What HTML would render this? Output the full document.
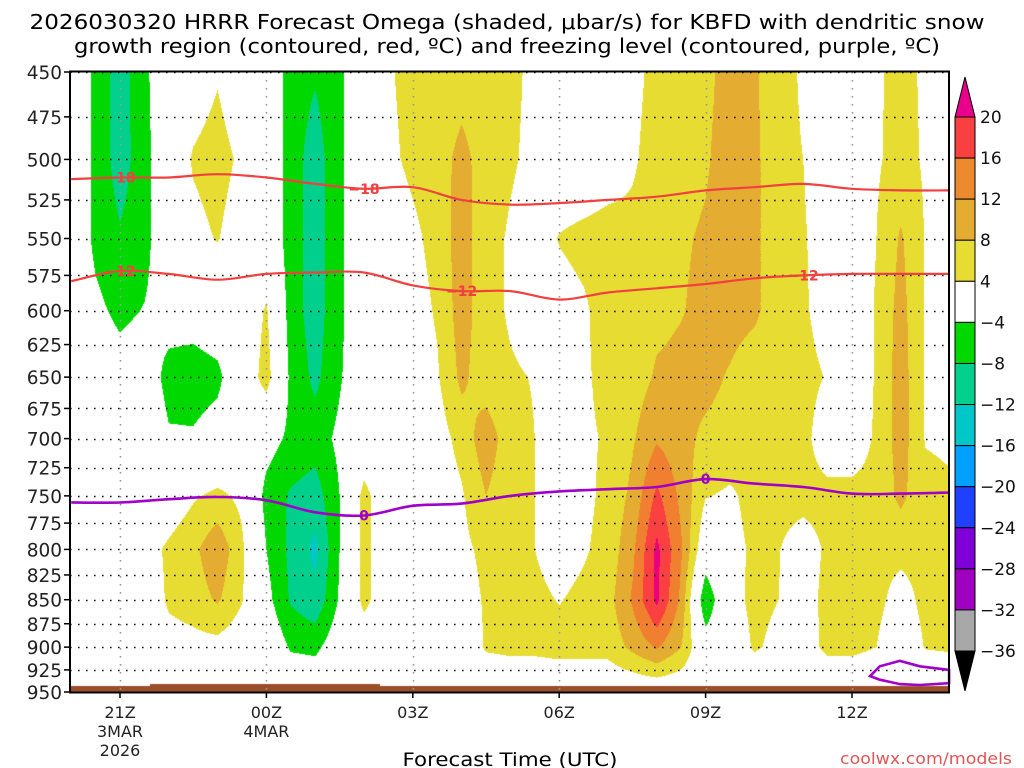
<!DOCTYPE html>
<html><head><meta charset="utf-8">
<style>
html,body{margin:0;padding:0;background:#fff;}
#wrap{position:relative;width:1024px;height:768px;overflow:hidden;font-family:"DejaVu Sans",sans-serif;}
#field{position:absolute;left:0;top:0;}
#over{position:absolute;left:0;top:0;}
</style></head>
<body>
<div id="wrap">
<canvas id="field" width="1024" height="768"></canvas>
<svg id="over" width="1024" height="768" xmlns="http://www.w3.org/2000/svg">
<text x="507" y="29" font-size="20.5" text-anchor="middle" textLength="955" lengthAdjust="spacingAndGlyphs" font-family="DejaVu Sans, sans-serif">2026030320 HRRR Forecast Omega (shaded, μbar/s) for KBFD with dendritic snow</text>
<text x="507" y="53" font-size="20.5" text-anchor="middle" textLength="866" lengthAdjust="spacingAndGlyphs" font-family="DejaVu Sans, sans-serif">growth region (contoured, red, ºC) and freezing level (contoured, purple, ºC)</text>
<text x="510" y="766" font-size="19" text-anchor="middle" textLength="215" lengthAdjust="spacingAndGlyphs" font-family="DejaVu Sans, sans-serif">Forecast Time (UTC)</text>
<text x="1012" y="764" font-size="16" text-anchor="end" textLength="172" lengthAdjust="spacingAndGlyphs" fill="#e05555" font-family="DejaVu Sans, sans-serif">coolwx.com/models</text>
<g id="grid"></g>
<g id="lines"></g>
<g id="axes"></g>
<g id="cbar"></g>
</svg>
</div>
<script>
// ---- data ----
const hours = [0,0.5,1,1.5,2,2.5,3,3.5,4,4.5,5,5.5,6,6.5,7,7.5,8,8.5,9,9.5,10,10.5,11,11.5,12,12.5,13,13.5,14,14.5,15,15.5,16,16.5,17,17.5,18];
const levels = [450,500,550,600,650,700,750,800,850,900,950];
const omega = [
[0,0,0,0,0,0,0,0,0,0,0],
[-5,-5,-5,-3,-1,0,0,0,0,0,0],
[-10,-10,-7.5,-5,-2,0,0,0,0,0,0],
[-5,-5.5,-5.5,-3.8,-1,0,0,2,0,0,0],
[0,0,0,-2,-5.5,-3.5,1,4.8,4.8,2,0],
[1,4.5,2.5,-2,-6,-3.5,3.5,7,6,2.5,0],
[3.5,6,4.3,-1,-5,-2,5,11,8.5,2.5,0],
[0,3,1,0,0,0,3,4.8,4.3,1,0],
[0,0,0,4.5,6,-2,-5.5,-4,-2.5,0,0],
[-6,-6,-6,-6,-5,-5,-8.5,-9,-8.5,-4.5,0],
[-7.5,-10,-10,-10,-9,-6,-10,-13,-11,-5,0],
[-5,-5,-5,-5,-4.5,-3,-4,-4,-3.5,-1,0],
[0,0,0,0,0,0,5.5,5.5,5.5,0,0],
[3.5,3,1,0,0,0,0,0,0,0,0],
[5.5,5,3,2,1,0,0,0,0,0,0],
[6,6.5,5.5,4.5,3.5,2,1,0,0,0,0],
[6.5,9,10,10,9,5.5,3.5,3,2,0,0],
[6,6.5,5.5,5.5,5.5,10.5,8,5,4.5,4.5,0],
[5,4.5,3.5,3.5,4.5,5.5,5,5,5,5,0],
[3,3,2,2,3.8,4,4,4,5,5,0],
[1,1,4.2,2.5,2,2,2,2,3.8,5.5,0],
[1,1,5,3.5,3.5,3.5,3,3.5,5,5.5,0],
[1.5,2,5.5,5.5,5,4.3,5,5.5,6.5,5.5,0],
[3,3.5,5,6,6,7.5,9,11,12.5,9,0],
[5,5.5,6,7,8.5,11.5,17,21,21,12.5,0],
[6,6.5,7.5,7.8,9,9.5,11,12.5,11,8,0],
[7,7.5,8.5,9,9.5,7,4.2,0,-8,-1,0],
[9.5,10,10.5,10,7.5,6,3.5,3,2.5,1,0],
[8.5,9,9,9,5,5,5,4.5,5,4.5,0],
[5.5,5,5,5,5,5,5,4.1,4,3,0],
[3.5,4,4.5,4.5,5,5,5,2.5,2.5,2,0],
[1,1,1.5,2.5,3.8,2,5,4.5,5,5,0],
[0,0,0,0,0,2,5,5.5,5.5,5,0],
[3.5,3.5,4,4.5,4.5,4.5,5,5,5,4,0],
[5,5.5,8.5,9.5,10,10,9,5,2.5,1,0],
[3.5,3.5,3.8,3.8,3.8,3.8,5,5,5,4.2,0],
[0,0,0,1,2,3.5,4.5,5,5,4.5,0]
];
const lineHours = [0,1,2,3,4,5,6,7,8,9,10,11,12,13,14,15,16,17,18];
const iso18 = [512,511,511,509,511,515,518,517,525,528,527,525,523,519,517,515,518,519,519];
const iso12 = [579,572,574,578,574,573,573,582,586,586,592,587,584,581,577,575,574,574,574];
const iso0 = [756,756,753,751,754,765,768,759,757,750,746,744,742,735,739,742,748,748,747];
const loopHours = [16.37,16.57,16.98,17.39,17.99,17.99,17.39,16.98,16.57,16.37];
const loopPres = [932,921,915,921,925,940,942,941,936,932];
const yTicks = [450,475,500,525,550,575,600,625,650,675,700,725,750,775,800,825,850,875,900,925,950];
const xTickHours = [1,4,7,10,13,16];
const xTickLabels = ["21Z","00Z","03Z","06Z","09Z","12Z"];
const xDateLabels = [["3MAR","2026"],["4MAR"],[],[],[],[]];
const cbLevels = [20,16,12,8,4,-4,-8,-12,-16,-20,-24,-28,-32,-36];
const cbColors = ["#f84040","#ee8a2e","#e4ac30","#e6dc32","#ffffff","#00d800","#00d08c","#00c8c8","#00a0ff","#2040ff","#8000d8","#a000c0","#a8a8a8"];

// ---- scales ----
const X0=71.2, XS=48.8, Y0=72, YH=620, LR=Math.log(950/450);
function xScale(h){return X0+XS*h;}
function yScale(p){return Y0+YH*Math.log(p/450)/LR;}
function pFromY(y){return 450*Math.exp((y-Y0)/YH*LR);}
function colorFor(v){
  if(v>20) return [232,0,124];
  if(v>=16) return [250,64,64];
  if(v>=12) return [240,128,48];
  if(v>=8) return [228,172,48];
  if(v>=4) return [230,220,50];
  if(v>-4) return null;
  if(v>-8) return [0,216,0];
  if(v>-12) return [0,208,140];
  if(v>-16) return [0,200,200];
  if(v>-20) return [0,160,255];
  return [32,64,255];
}
// ---- field ----
(function(){
  const c=document.getElementById('field'), ctx=c.getContext('2d');
  const x0=70,x1=949,y0=72,y1=692;
  const img=ctx.createImageData(x1-x0,y1-y0);
  const lnL=levels.map(Math.log);
  for(let py=y0;py<y1;py++){
    const p=pFromY(py+0.5), lp=Math.log(p);
    let j=0; while(j<levels.length-2 && p>levels[j+1]) j++;
    let fy=(lp-lnL[j])/(lnL[j+1]-lnL[j]); fy=Math.max(0,Math.min(1,fy));
    for(let px=x0;px<x1;px++){
      let h=(px+0.5-X0)/XS; h=Math.max(0,Math.min(18,h));
      let i=0; while(i<hours.length-2 && h>hours[i+1]) i++;
      let fx=(h-hours[i])/(hours[i+1]-hours[i]); fx=Math.max(0,Math.min(1,fx));
      const v=(1-fx)*(1-fy)*omega[i][j]+fx*(1-fy)*omega[i+1][j]+(1-fx)*fy*omega[i][j+1]+fx*fy*omega[i+1][j+1];
      const col=colorFor(v)||[255,255,255];
      const k=((py-y0)*(x1-x0)+(px-x0))*4;
      img.data[k]=col[0];img.data[k+1]=col[1];img.data[k+2]=col[2];img.data[k+3]=255;
    }
  }
  ctx.putImageData(img,x0,y0);
  ctx.fillStyle='#9a4e2a';
  ctx.fillRect(70,686,879,6);
  ctx.fillRect(150,684,230,3);
})();
// ---- svg overlay ----
const NS='http://www.w3.org/2000/svg';
function mk(tag,attrs,parent){const e=document.createElementNS(NS,tag);for(const k in attrs)e.setAttribute(k,attrs[k]);parent.appendChild(e);return e;}
const grid=document.getElementById('grid');
yTicks.forEach(p=>{
  const y=Math.round(yScale(p))+0.5;
  const l=mk('line',{x1:70,x2:949,y1:y,y2:y,stroke:'#111','stroke-width':1.6,'stroke-dasharray':'1.6 6.4'},grid);
  
  
});
xTickHours.forEach((h,i)=>{
  const x=Math.round(xScale(h))+0.5;
  const l=mk('line',{x1:x,x2:x,y1:72,y2:692,stroke:'#999','stroke-width':1.6,'stroke-dasharray':'1.6 6.4'},grid);
  
  
});
const lines=document.getElementById('lines');
function pathFrom(hs,ps){return hs.map((h,i)=>(i?'L':'M')+xScale(h).toFixed(1)+' '+yScale(ps[i]).toFixed(1)).join(' ');}
function smooth(hs,ps){
  const pts=hs.map((h,i)=>[xScale(h),yScale(ps[i])]);
  let d='M'+pts[0][0]+' '+pts[0][1];
  for(let i=0;i<pts.length-1;i++){
    const p0=pts[Math.max(0,i-1)],p1=pts[i],p2=pts[i+1],p3=pts[Math.min(pts.length-1,i+2)];
    d+=' C'+(p1[0]+(p2[0]-p0[0])/6).toFixed(1)+' '+(p1[1]+(p2[1]-p0[1])/6).toFixed(1)+' '+(p2[0]-(p3[0]-p1[0])/6).toFixed(1)+' '+(p2[1]-(p3[1]-p1[1])/6).toFixed(1)+' '+p2[0].toFixed(1)+' '+p2[1].toFixed(1);
  }
  return d;
}
let e;
e=mk('path',{d:smooth(lineHours,iso18),fill:'none',stroke:'#f04040','stroke-width':2.2},lines);


e=mk('path',{d:smooth(lineHours,iso12),fill:'none',stroke:'#f04040','stroke-width':2.2},lines);


e=mk('path',{d:smooth(lineHours,iso0),fill:'none',stroke:'#a000c8','stroke-width':2.6},lines);


e=mk('path',{d:pathFrom(loopHours,loopPres)+' Z',fill:'none',stroke:'#a000c8','stroke-width':2.6},lines);


const lbls=[[1,iso18,'-18','#f04040'],[6,iso18,'-18','#f04040'],[1,iso12,'-12','#f04040'],[8,iso12,'-12','#f04040'],[15,iso12,'-12','#f04040'],[6,iso0,'0','#a000c8'],[13,iso0,'0','#a000c8']];
lbls.forEach(a=>{
  const x=xScale(a[0]), y=yScale(a[1][a[0]]);
  const t=mk('text',{x:x,y:y+5,'font-size':14,'font-weight':'bold','text-anchor':'middle',fill:a[3],'font-family':'DejaVu Sans, sans-serif'},lines);
  t.textContent=a[2].replace('-','−');
  
  
});
const axes=document.getElementById('axes');
e=mk('rect',{x:70,y:71.5,width:879,height:621,fill:'none',stroke:'#000','stroke-width':2},axes);


yTicks.forEach(p=>{
  const y=yScale(p);
  const tk=mk('line',{x1:64,x2:70,y1:y,y2:y,stroke:'#000','stroke-width':1.5},axes);
  
  
  const t=mk('text',{x:62,y:y+7,'font-size':18.5,'text-anchor':'end',fill:'#222','font-family':'DejaVu Sans, sans-serif'},axes);
  t.textContent=p;
  
  
});
xTickHours.forEach((h,i)=>{
  const x=xScale(h);
  const tk=mk('line',{x1:x,x2:x,y1:692,y2:698,stroke:'#000','stroke-width':1.5},axes);
  
  
  const t=mk('text',{x:x,y:718,'font-size':16,'text-anchor':'middle',fill:'#222','font-family':'DejaVu Sans, sans-serif'},axes);
  t.textContent=xTickLabels[i];
  
  
  xDateLabels[i].forEach((s,k)=>{
    const d=mk('text',{x:x,y:737+k*19,'font-size':16,'text-anchor':'middle',fill:'#222','font-family':'DejaVu Sans, sans-serif'},axes);
    d.textContent=s;
    
    
  });
});
// colorbar
const cb=document.getElementById('cbar');
const cbx=955,cbw=20,cbTop=117,cbStep=(651-117)/13;
e=mk('path',{d:`M${cbx} ${cbTop} L${cbx+cbw/2} 77 L${cbx+cbw} ${cbTop} Z`,fill:'#e8008c',stroke:'#000','stroke-width':1},cb);


cbColors.forEach((c,i)=>{
  const r=mk('rect',{x:cbx,y:cbTop+i*cbStep,width:cbw,height:cbStep,fill:c,stroke:'#000','stroke-width':1},cb);
  
  
});
e=mk('path',{d:`M${cbx} 651 L${cbx+cbw/2} 691 L${cbx+cbw} 651 Z`,fill:'#000',stroke:'#000','stroke-width':1},cb);


cbLevels.forEach((v,i)=>{
  const t=mk('text',{x:980,y:cbTop+i*cbStep+6,'font-size':17,fill:'#111','font-family':'DejaVu Sans, sans-serif'},cb);
  t.textContent=(v<0?'−':'')+Math.abs(v);
  
  
});
</script>
</body></html>
